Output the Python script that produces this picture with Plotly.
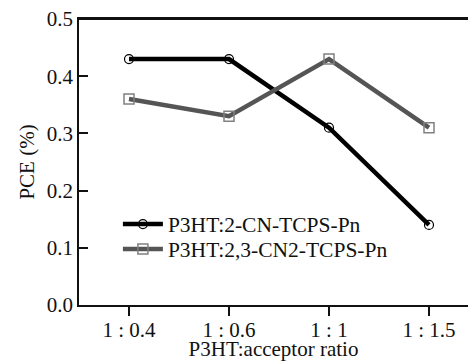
import plotly.graph_objects as go

categories = ["1 : 0.4", "1 : 0.6", "1 : 1", "1 : 1.5"]
series1_name = "P3HT:2-CN-TCPS-Pn"
series1 = [0.43, 0.43, 0.31, 0.14]
series2_name = "P3HT:2,3-CN2-TCPS-Pn"
series2 = [0.36, 0.33, 0.43, 0.31]
y_ticks = [0.0, 0.1, 0.2, 0.3, 0.4, 0.5]
y_ticklabels = ["0.0", "0.1", "0.2", "0.3", "0.4", "0.5"]

xi = list(range(len(categories)))
family = "Liberation Serif, Times New Roman, serif"
font = dict(family=family, size=21, color="#111")
legend_font = dict(family=family, size=21.5, color="#111")

fig = go.Figure()
fig.add_trace(go.Scatter(
    x=xi, y=series1, name=series1_name, mode="lines+markers",
    line=dict(color="#000000", width=4.5),
    marker=dict(symbol="circle-open", size=9, color="#000000", line=dict(width=1.2)),
    legend="legend",
))
fig.add_trace(go.Scatter(
    x=xi, y=series2, name=series2_name, mode="lines+markers",
    line=dict(color="#555555", width=4.5),
    marker=dict(symbol="square-open", size=10, color="#808080", line=dict(width=1.5)),
    legend="legend2",
))

legend_common = dict(xanchor="left", yanchor="middle", bgcolor="rgba(0,0,0,0)",
                     font=legend_font, itemwidth=40)

fig.update_layout(
    width=468, height=361,
    margin=dict(l=79, r=0, t=19, b=56),
    paper_bgcolor="white", plot_bgcolor="white",
    font=font,
    showlegend=True,
    legend=dict(x=0.100, y=0.283, **legend_common),
    legend2=dict(x=0.100, y=0.196, **legend_common),
    xaxis=dict(
        range=[-0.5, 3.39], tickmode="array", tickvals=xi, ticktext=categories,
        showgrid=False, zeroline=False, showline=True, linecolor="#111", linewidth=1.5,
        mirror=True, ticks="outside", ticklen=9, tickwidth=1.5, tickcolor="#111",
        ticklabelstandoff=-4,
        title=dict(text="P3HT:acceptor ratio", font=font, standoff=0),
    ),
    yaxis=dict(
        range=[0, 0.5], tickmode="array", tickvals=y_ticks, ticktext=y_ticklabels,
        showgrid=False, zeroline=False, showline=True, linecolor="#111", linewidth=1.5,
        ticks="inside", ticklen=9, tickwidth=1.5, tickcolor="#111",
        title=dict(text="PCE (%)", font=font, standoff=6),
    ),
    shapes=[dict(type="line", xref="paper", yref="paper", x0=0, x1=1, y0=1, y1=1,
                 line=dict(color="#111", width=2), layer="above")],
)

fig.write_html(
    "out.html",
    config=dict(displayModeBar=False),
    post_script="document.body.style.margin='0';document.body.style.overflow='hidden';",
)
